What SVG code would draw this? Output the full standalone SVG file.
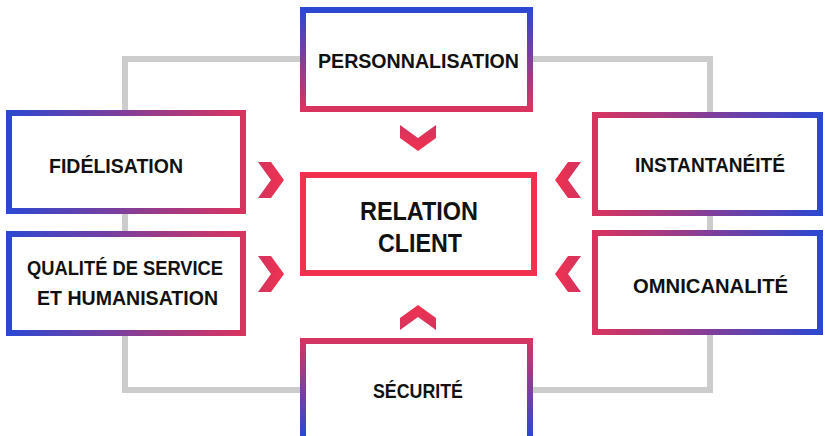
<svg xmlns="http://www.w3.org/2000/svg" width="825" height="436" viewBox="0 0 825 436">
<defs>
<linearGradient id="gTB" x1="0" y1="0" x2="0" y2="1"><stop offset="0" stop-color="#2c48d2"/><stop offset="1" stop-color="#d9345f"/></linearGradient>
<linearGradient id="gBT" gradientUnits="userSpaceOnUse" x1="0" y1="338" x2="0" y2="436"><stop offset="0" stop-color="#d9345f"/><stop offset="1" stop-color="#2c48d2"/></linearGradient>
<linearGradient id="gLR" x1="0" y1="0" x2="1" y2="0"><stop offset="0" stop-color="#2c48d2"/><stop offset="1" stop-color="#d9345f"/></linearGradient>
<linearGradient id="gRL" x1="0" y1="0" x2="1" y2="0"><stop offset="0" stop-color="#d9345f"/><stop offset="1" stop-color="#2c48d2"/></linearGradient>
<linearGradient id="cDown" x1="0" y1="0" x2="0" y2="1"><stop offset="0" stop-color="#d3345f"/><stop offset="1" stop-color="#f2314f"/></linearGradient>
<linearGradient id="cUp" x1="0" y1="1" x2="0" y2="0"><stop offset="0" stop-color="#d3345f"/><stop offset="1" stop-color="#f2314f"/></linearGradient>
<linearGradient id="cRight" x1="0" y1="0" x2="1" y2="0"><stop offset="0" stop-color="#d3345f"/><stop offset="1" stop-color="#f2314f"/></linearGradient>
<linearGradient id="cLeft" x1="1" y1="0" x2="0" y2="0"><stop offset="0" stop-color="#d3345f"/><stop offset="1" stop-color="#f2314f"/></linearGradient>
</defs>
<style>
.box{fill:#fff;stroke-width:6}
.lbl{font-family:"Liberation Sans",Arial,sans-serif;font-weight:bold;font-size:20.5px;fill:#111}
.big{font-size:25px}
.conn{fill:none;stroke:#cccccc;stroke-width:6}
</style>
<g id="connectors">
<path class="conn" d="M300,59 H125 V390 H300"/>
<path class="conn" d="M533,59 H710 V390 H533"/>
<polygon fill="url(#cDown)" points="400,125 418,138 436,125 436,138 418,151 400,138"/>
<polygon fill="url(#cUp)" points="400,318 418,305 436,318 436,330 418,317 400,330"/>
<polygon fill="url(#cRight)" points="258,162 271,162 284,180 271,198 258,198 271,180"/>
<polygon fill="url(#cRight)" points="258,256 271,256 284,274 271,292 258,292 271,274"/>
<polygon fill="url(#cLeft)" points="581,162 568,162 555,180 568,198 581,198 568,180"/>
<polygon fill="url(#cLeft)" points="581,256 568,256 555,274 568,292 581,292 568,274"/>
</g>
<g id="personnalisation">
<rect class="box" x="303" y="10" width="227" height="99" stroke="url(#gTB)"/>
<text class="lbl" x="318" y="68" textLength="201" lengthAdjust="spacingAndGlyphs">PERSONNALISATION</text>
</g>
<g id="fidelisation">
<rect class="box" x="9" y="113" width="234" height="98" stroke="url(#gLR)"/>
<text class="lbl" x="49" y="172.5" textLength="134" lengthAdjust="spacingAndGlyphs">FIDÉLISATION</text>
</g>
<g id="qualite">
<rect class="box" x="9" y="234" width="234" height="99" stroke="url(#gLR)"/>
<text class="lbl" x="27" y="275" textLength="196" lengthAdjust="spacingAndGlyphs">QUALITÉ DE SERVICE</text>
<text class="lbl" x="37" y="304.5" textLength="181" lengthAdjust="spacingAndGlyphs">ET HUMANISATION</text>
</g>
<g id="instantaneite">
<rect class="box" x="595" y="115" width="225" height="98" stroke="url(#gRL)"/>
<text class="lbl" x="635" y="171.5" textLength="150" lengthAdjust="spacingAndGlyphs">INSTANTANÉITÉ</text>
</g>
<g id="omnicanalite">
<rect class="box" x="595" y="233" width="225" height="99" stroke="url(#gRL)"/>
<text class="lbl" x="633" y="293" textLength="155" lengthAdjust="spacingAndGlyphs">OMNICANALITÉ</text>
</g>
<g id="relation-client">
<rect class="box" x="303" y="175" width="231" height="98" stroke="#f2314f"/>
<text class="lbl big" x="360" y="220" textLength="118" lengthAdjust="spacingAndGlyphs">RELATION</text>
<text class="lbl big" x="378" y="251.5" textLength="84" lengthAdjust="spacingAndGlyphs">CLIENT</text>
</g>
<g id="securite">
<rect class="box" x="303" y="341" width="227" height="120" stroke="url(#gBT)"/>
<text class="lbl" x="373" y="398" textLength="90" lengthAdjust="spacingAndGlyphs">SÉCURITÉ</text>
</g>
</svg>
